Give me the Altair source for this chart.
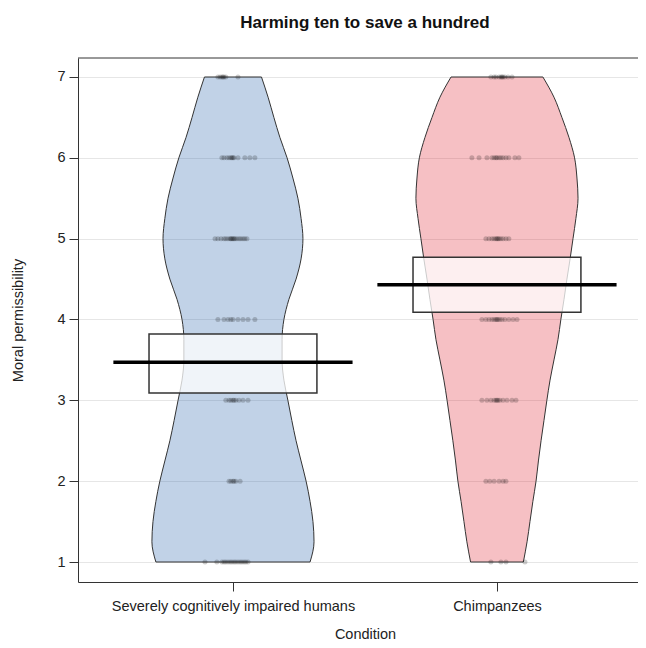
import altair as alt
import pandas as pd

# ---------------- data ----------------
groups = ["Severely cognitively impaired humans", "Chimpanzees"]
group_pos = [1, 2]
means = [3.47, 4.43]
hdi_low = [3.09, 4.09]
hdi_high = [3.82, 4.77]

density_y = [1.0, 1.25, 1.5, 1.75, 2.0, 2.25, 2.5, 2.75, 3.0, 3.25, 3.5, 3.75,
             4.0, 4.25, 4.5, 4.75, 5.0, 5.25, 5.5, 5.75, 6.0, 6.25, 6.5, 6.75, 7.0]
# half widths of the beans (axis units)
humans_half = [0.292, 0.307, 0.303, 0.292, 0.277, 0.258, 0.239, 0.223, 0.208, 0.193,
               0.186, 0.186, 0.193, 0.212, 0.239, 0.258, 0.265, 0.258, 0.246, 0.227,
               0.205, 0.178, 0.155, 0.133, 0.108]
chimps_half = [0.100, 0.114, 0.125, 0.136, 0.148, 0.157, 0.167, 0.178, 0.189, 0.201,
               0.216, 0.231, 0.242, 0.254, 0.265, 0.277, 0.288, 0.299, 0.307, 0.303,
               0.294, 0.273, 0.246, 0.216, 0.174]

# raw responses (value -> horizontal jitter of each dot, axis units)
humans_dots = {
    7: [-0.057, -0.049, -0.042, -0.038, -0.034, -0.027, 0.019],
    6: [-0.042, -0.034, -0.023, -0.015, -0.008, -0.004, 0.0, 0.004, 0.019, 0.045, 0.064, 0.083],
    5: [-0.068, -0.057, -0.045, -0.034, -0.027, -0.019, -0.011, -0.008, -0.004, 0.0,
        0.004, 0.008, 0.015, 0.023, 0.030, 0.038, 0.045, 0.053],
    4: [-0.057, -0.034, -0.019, -0.008, 0.0, 0.019, 0.038, 0.057, 0.083],
    3: [-0.027, -0.015, -0.008, 0.0, 0.004, 0.011, 0.023, 0.038, 0.057],
    2: [-0.015, -0.008, 0.0, 0.004, 0.011, 0.027],
    1: [-0.106, -0.061, -0.042, -0.034, -0.027, -0.019, -0.011, -0.004, 0.004, 0.011,
        0.019, 0.027, 0.034, 0.042, 0.049, 0.057],
}
chimps_dots = {
    7: [-0.023, -0.011, -0.004, 0.008, 0.015, 0.019, 0.023, 0.030, 0.042, 0.057],
    6: [-0.095, -0.068, -0.038, -0.019, -0.011, -0.004, 0.0, 0.008, 0.015, 0.023,
        0.034, 0.045, 0.068, 0.083],
    5: [-0.042, -0.030, -0.019, -0.011, -0.004, 0.0, 0.004, 0.008, 0.015, 0.023, 0.034, 0.045],
    4: [-0.057, -0.042, -0.030, -0.019, -0.011, -0.004, 0.0, 0.004, 0.011, 0.019,
        0.030, 0.045, 0.061, 0.076],
    3: [-0.057, -0.038, -0.023, -0.011, -0.004, 0.0, 0.004, 0.011, 0.023, 0.038, 0.057, 0.072],
    2: [-0.042, -0.027, -0.011, 0.008, 0.023, 0.034],
    1: [-0.023, 0.015, 0.034, 0.106],
}

colors = ["#1a57a5", "#de1624"]

# ---------------- tables ----------------
vrows = []
for g, p, halves in zip(groups, group_pos, [humans_half, chimps_half]):
    for y, h in zip(density_y, halves):
        vrows.append({"group": g, "y": y, "left": p - h, "right": p + h})
vdf = pd.DataFrame(vrows)

drows = []
for g, p, dots in zip(groups, group_pos, [humans_dots, chimps_dots]):
    for val, offs in dots.items():
        for o in offs:
            drows.append({"group": g, "value": val, "x": p + o})
ddf = pd.DataFrame(drows)

sdf = pd.DataFrame({"group": groups, "pos": group_pos, "mean": means,
                    "lo": hdi_low, "hi": hdi_high})

# ---------------- chart ----------------
W, H = 560, 524
xmin = 0.413
xmax = xmin + W / 264.0
ymin, ymax = 0.7526, 7.235
xscale = alt.Scale(domain=[xmin, xmax], nice=False, zero=False)
yscale = alt.Scale(domain=[ymin, ymax], nice=False, zero=False)

label_expr = " : ".join(
    [f"datum.value == {p} ? '{g}'" for p, g in zip(group_pos[:-1], groups[:-1])]
) + f" : '{groups[-1]}'"

FS = 14.5
xaxis = alt.Axis(values=group_pos, labelExpr=label_expr, grid=False, domain=True,
                 domainColor="#333333", tickColor="#333333", tickSize=9,
                 labelFontSize=FS, labelColor="#222222", labelPadding=8, labelLimit=0,
                 labelFlush=False, labelOverlap=False, title="Condition",
                 titleFontSize=FS, titleFontWeight="normal", titleColor="#222222",
                 titleX=287, titleY=52, titleBaseline="middle", titleAlign="center")
yaxis = alt.Axis(values=[1, 2, 3, 4, 5, 6, 7], format="d", grid=True,
                 gridColor="#e6e6e6", gridWidth=1, domain=True, domainColor="#333333",
                 tickColor="#333333", tickSize=9, labelFontSize=FS, labelColor="#222222",
                 labelPadding=4, title="Moral permissibility", titleFontSize=FS,
                 titleFontWeight="normal", titleColor="#222222", titleX=-60, titleY=262,
                 titleAngle=-90, titleAlign="center", titleBaseline="middle")

color_scale = alt.Scale(domain=groups, range=colors)

violin = alt.Chart(vdf).mark_area(
    orient="horizontal", fillOpacity=0.27, stroke="#333333", strokeWidth=1,
    interpolate="monotone"
).encode(
    y=alt.Y("y:Q", scale=yscale, axis=yaxis),
    x=alt.X("left:Q", scale=xscale, axis=xaxis),
    x2="right:Q",
    color=alt.Color("group:N", scale=color_scale, legend=None),
    detail="group:N",
)

box = alt.Chart(sdf).transform_calculate(
    bl="datum.pos - 0.318", br="datum.pos + 0.318"
).mark_rect(fill="white", fillOpacity=0.75, stroke="#333333", strokeWidth=1.5).encode(
    x=alt.X("bl:Q", scale=xscale), x2="br:Q",
    y=alt.Y("lo:Q", scale=yscale), y2="hi:Q",
)

mean_line = alt.Chart(sdf).transform_calculate(
    ml="datum.pos - 0.453", mr="datum.pos + 0.453"
).mark_rule(color="black", strokeWidth=3.5, strokeCap="butt").encode(
    x=alt.X("ml:Q", scale=xscale), x2="mr:Q",
    y=alt.Y("mean:Q", scale=yscale),
)

points = alt.Chart(ddf).mark_circle(size=25, color="black", opacity=0.2).encode(
    x=alt.X("x:Q", scale=xscale),
    y=alt.Y("value:Q", scale=yscale),
)

top_line = alt.Chart(pd.DataFrame({"t": [ymax]})).mark_rule(
    color="#333333", strokeWidth=1
).encode(y=alt.Y("t:Q", scale=yscale))

chart = alt.layer(violin, box, mean_line, points, top_line).properties(
    width=W, height=H,
    title=alt.TitleParams("Harming ten to save a hundred", fontSize=17,
                          fontWeight="bold", color="#111111", offset=26, dx=7,
                          anchor="middle"),
    autosize=alt.AutoSizeParams(type="none"),
    padding={"left": 70, "top": 50, "right": 0, "bottom": 58},
).configure(font="Liberation Sans").configure_view(stroke=None)

chart.save("out.html", embed_options={"renderer": "svg", "actions": False})
